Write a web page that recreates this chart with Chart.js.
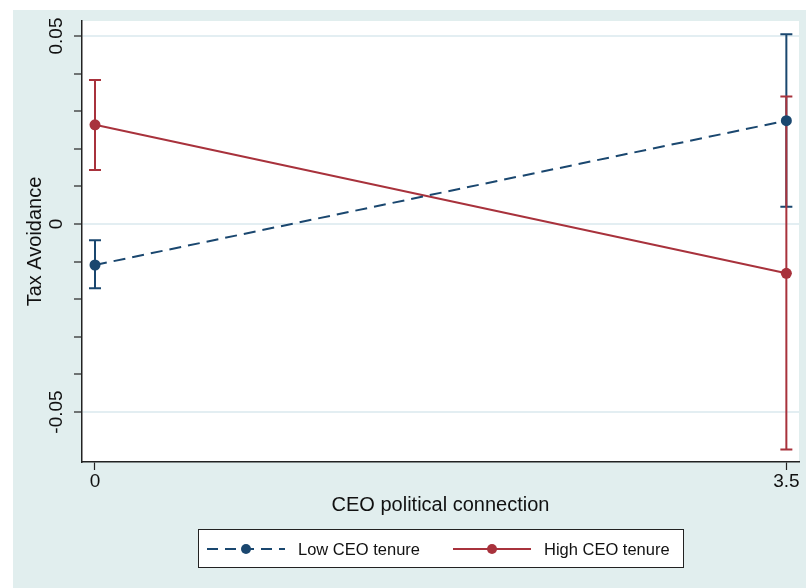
<!DOCTYPE html>
<html>
<head>
<meta charset="utf-8">
<script src="https://cdn.jsdelivr.net/npm/chart.js@4/dist/chart.umd.min.js"></script>
<style>
  html, body { margin: 0; padding: 0; background: #fff; }
  #wrap { width: 806px; height: 588px; }
</style>
</head>
<body>
<div id="wrap"><canvas id="chart" width="806" height="588"></canvas></div>
<script>
const xValues = [0, 3.5]
const xTickLabels = ["0", "3.5"]
const yTicks = [-0.05, -0.04, -0.03, -0.02, -0.01, 0, 0.01, 0.02, 0.03, 0.04, 0.05]
const yLabeled = [-0.05, 0, 0.05]
const yTickLabels = ["-0.05", "0", "0.05"]

const lowTenure = [-0.0109, 0.0275]
const lowLower = [-0.0171, 0.0046]
const lowUpper = [-0.0043, 0.0505]
const highTenure = [0.0264, -0.0131]
const highLower = [0.0144, -0.0600]
const highUpper = [0.0383, 0.0339]

const navy = "#1a476f"
const maroon = "#a8323c"
const regionBg = "#e1eeee"
const gridCol = "#e3eef2"
const font = "'Liberation Sans', Arial, sans-serif"

const isLabeled = v => yLabeled.some(l => Math.abs(l - v) < 1e-9)

// backgrounds, error bars, custom texts and legend
const stataPlugin = {
  id: "stata",
  beforeDraw(chart) {
    const { ctx, chartArea: a } = chart
    ctx.save()
    ctx.fillStyle = "#fff"
    ctx.fillRect(0, 0, chart.width, chart.height)
    ctx.fillStyle = regionBg
    ctx.fillRect(13, 10, chart.width - 13, chart.height - 10)
    ctx.fillStyle = "#fff"
    ctx.fillRect(a.left, a.top, a.right - a.left, a.bottom - a.top)
    ctx.restore()
  },
  beforeDatasetsDraw(chart) {
    const { ctx, scales: { x, y } } = chart
    const bars = [
      { lo: lowLower, hi: lowUpper, color: navy },
      { lo: highLower, hi: highUpper, color: maroon }
    ]
    ctx.save()
    ctx.lineWidth = 2
    bars.forEach(b => {
      ctx.strokeStyle = b.color
      xValues.forEach((xv, i) => {
        const px = x.getPixelForValue(xv)
        const p1 = y.getPixelForValue(b.lo[i])
        const p2 = y.getPixelForValue(b.hi[i])
        ctx.beginPath()
        ctx.moveTo(px, p1); ctx.lineTo(px, p2)
        ctx.moveTo(px - 6, p1); ctx.lineTo(px + 6, p1)
        ctx.moveTo(px - 6, p2); ctx.lineTo(px + 6, p2)
        ctx.stroke()
      })
    })
    ctx.restore()
  },
  afterDraw(chart) {
    const { ctx, chartArea: a, scales: { x, y } } = chart
    ctx.save()
    ctx.fillStyle = "#111"
    // y tick labels, rotated
    ctx.font = "19px " + font
    ctx.textAlign = "center"
    ctx.textBaseline = "middle"
    yLabeled.forEach((v, i) => {
      ctx.save()
      ctx.translate(57, y.getPixelForValue(v))
      ctx.rotate(-Math.PI / 2)
      ctx.fillText(yTickLabels[i], 0, 0)
      ctx.restore()
    })
    // x tick labels
    xValues.forEach((v, i) => {
      ctx.fillText(xTickLabels[i], x.getPixelForValue(v), 482)
    })
    // axis titles
    ctx.font = "20px " + font
    ctx.fillText("CEO political connection", (a.left + a.right) / 2, 505)
    ctx.save()
    ctx.translate(35, (a.top + a.bottom) / 2)
    ctx.rotate(-Math.PI / 2)
    ctx.fillText("Tax Avoidance", 0, 0)
    ctx.restore()

    // legend
    ctx.fillStyle = "#fff"
    ctx.fillRect(198, 529, 485, 38)
    ctx.strokeStyle = "#222"
    ctx.lineWidth = 1
    ctx.strokeRect(198.5, 529.5, 485, 38)
    const ly = 549
    const items = [
      { x0: 207, x1: 285, dash: [11, 7], color: navy, text: "Low CEO tenure", tx: 298 },
      { x0: 453, x1: 531, dash: [], color: maroon, text: "High CEO tenure", tx: 544 }
    ]
    items.forEach(it => {
      ctx.strokeStyle = it.color
      ctx.lineWidth = 2
      ctx.setLineDash(it.dash)
      ctx.beginPath()
      ctx.moveTo(it.x0, ly); ctx.lineTo(it.x1, ly)
      ctx.stroke()
      ctx.setLineDash([])
      ctx.fillStyle = it.color
      ctx.beginPath()
      ctx.arc((it.x0 + it.x1) / 2, ly, 5, 0, Math.PI * 2)
      ctx.fill()
      ctx.fillStyle = "#111"
      ctx.font = "16.5px " + font
      ctx.textAlign = "left"
      ctx.fillText(it.text, it.tx, ly + 1)
    })
    ctx.restore()
  }
}

new Chart(document.getElementById("chart"), {
  type: "line",
  data: {
    datasets: [
      {
        label: "Low CEO tenure",
        data: xValues.map((v, i) => ({ x: v, y: lowTenure[i] })),
        borderColor: navy,
        backgroundColor: navy,
        borderWidth: 2,
        borderDash: [12, 7],
        pointRadius: 5.5,
        pointBackgroundColor: navy,
        pointBorderWidth: 0,
        fill: false,
        tension: 0
      },
      {
        label: "High CEO tenure",
        data: xValues.map((v, i) => ({ x: v, y: highTenure[i] })),
        borderColor: maroon,
        backgroundColor: maroon,
        borderWidth: 2,
        pointRadius: 5.5,
        pointBackgroundColor: maroon,
        pointBorderWidth: 0,
        fill: false,
        tension: 0
      }
    ]
  },
  plugins: [stataPlugin],
  options: {
    responsive: false,
    animation: false,
    layout: { padding: { top: 21, right: 7, bottom: 0, left: 0 } },
    plugins: {
      legend: { display: false },
      tooltip: { enabled: false }
    },
    scales: {
      x: {
        type: "linear",
        min: -0.0658,
        max: 3.564,
        afterBuildTicks: scale => { scale.ticks = xValues.map(v => ({ value: v })) },
        afterFit: scale => { scale.height = 126 },
        ticks: { display: false },
        grid: {
          drawOnChartArea: false,
          drawTicks: true,
          tickLength: 8,
          tickColor: "#222",
          tickWidth: 1.2
        },
        border: { display: true, color: "#222", width: 1.5 }
      },
      y: {
        type: "linear",
        min: -0.0633,
        max: 0.054,
        afterBuildTicks: scale => { scale.ticks = yTicks.map(v => ({ value: v })) },
        afterFit: scale => { scale.width = 82 },
        ticks: { display: false },
        grid: {
          color: c => (c.tick && isLabeled(c.tick.value)) ? gridCol : "rgba(0,0,0,0)",
          lineWidth: 2,
          drawTicks: true,
          tickLength: 8,
          tickColor: "#222",
          tickWidth: 1.2
        },
        border: { display: true, color: "#222", width: 1.5 }
      }
    }
  }
})
</script>
</body>
</html>
